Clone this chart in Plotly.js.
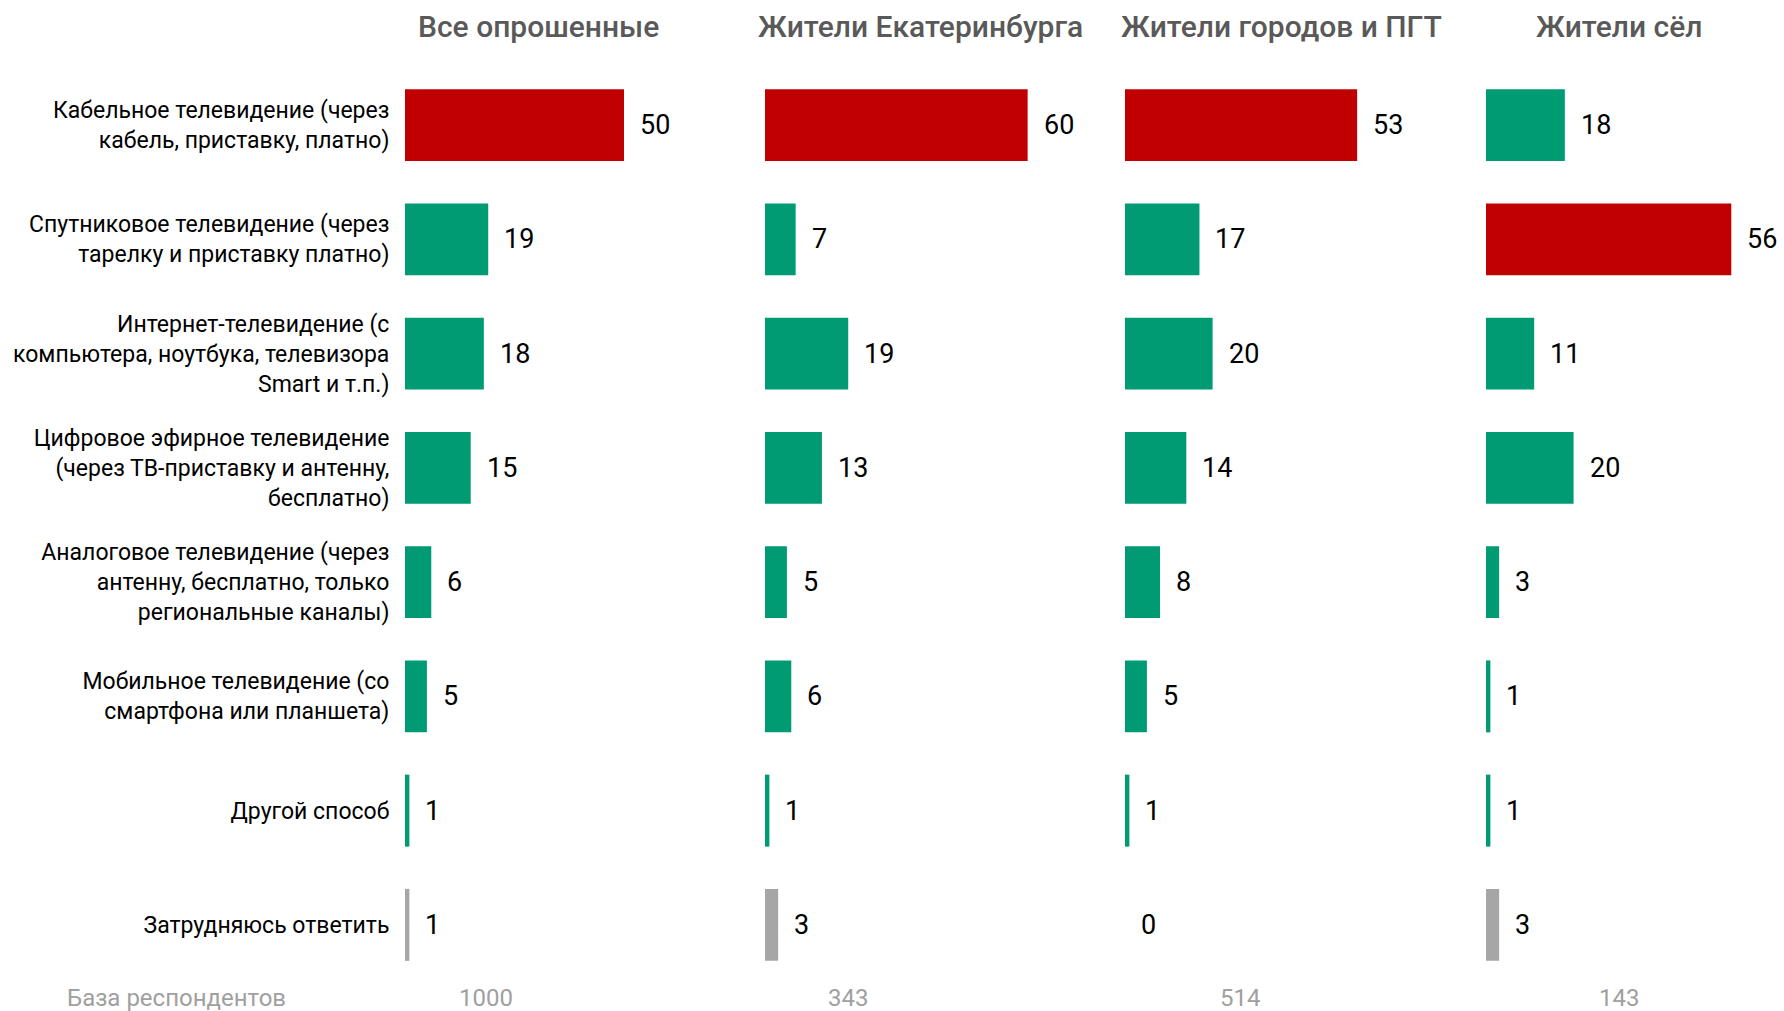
<!DOCTYPE html>
<html><head><meta charset="utf-8">
<script src="https://cdn.plot.ly/plotly-3.0.1.min.js"></script>
<style>html,body{margin:0;padding:0;background:#fff;}#chart{width:1784px;height:1011px;}</style>
</head><body><div id="chart"></div>
<script>
const categories = [
  "Кабельное телевидение (через<br>кабель, приставку, платно)",
  "Спутниковое телевидение (через<br>тарелку и приставку платно)",
  "Интернет-телевидение (с<br>компьютера, ноутбука, телевизора<br>Smart и т.п.)",
  "Цифровое эфирное телевидение<br>(через ТВ-приставку и антенну,<br>бесплатно)",
  "Аналоговое телевидение (через<br>антенну, бесплатно, только<br>региональные каналы)",
  "Мобильное телевидение (со<br>смартфона или планшета)",
  "Другой способ",
  "Затрудняюсь ответить"
];
const panelTitles = ["Все опрошенные", "Жители Екатеринбурга", "Жители городов и ПГТ", "Жители сёл"];
const allResp = [50, 19, 18, 15, 6, 5, 1, 1];
const ekb = [60, 7, 19, 13, 5, 6, 1, 3];
const towns = [53, 17, 20, 14, 8, 5, 1, 0];
const villages = [18, 56, 11, 20, 3, 1, 1, 3];
const baseLabel = "База респондентов";
const baseCounts = [1000, 343, 514, 143];

const series = [allResp, ekb, towns, villages];
const W = 1784;
const RED = "#C00000", GREEN = "#009B72", GRAY = "#A6A6A6";
const FONT = "Roboto, 'Liberation Sans', Arial, sans-serif";
const panelStart = [405, 765, 1125, 1486];
const pxPerUnit = 4.38;
const rangeMax = 60;
const titleX = [538, 920, 1281, 1619];
const baseX = [486, 848, 1240, 1619];

const traces = [];
const annotations = [];
const layout = {
  width: W, height: 1011,
  margin: {l: 0, r: 0, t: 68, b: 29},
  paper_bgcolor: "#fff", plot_bgcolor: "#fff",
  showlegend: false,
  bargap: 0.37,
  font: {family: FONT, color: "#000"},
  yaxis: {
    type: "category", autorange: false, range: [7.5, -0.5],
    tickmode: "array", tickvals: categories, ticktext: categories,
    showgrid: false, zeroline: false, showline: false,
    ticks: "outside", ticklen: 10, tickcolor: "rgba(0,0,0,0)",
    tickfont: {family: FONT, size: 23, color: "#000"},
    anchor: "x", side: "left"
  }
};

series.forEach((vals, i) => {
  const ax = i === 0 ? "x" : "x" + (i + 1);
  const axKey = i === 0 ? "xaxis" : "xaxis" + (i + 1);
  const maxV = Math.max(...vals);
  const colors = vals.map((v, j) => j === vals.length - 1 ? GRAY : (v === maxV ? RED : GREEN));
  traces.push({
    type: "bar", orientation: "h", x: vals, y: categories,
    xaxis: ax, yaxis: "y",
    marker: {color: colors, line: {width: 0}},
    hoverinfo: "x+y", cliponaxis: false
  });
  const d0 = panelStart[i] / W;
  const d1 = (panelStart[i] + rangeMax * pxPerUnit) / W;
  layout[axKey] = {
    domain: [d0, d1], range: [0, rangeMax], anchor: "y",
    showgrid: false, zeroline: false, showline: false, showticklabels: false, ticks: ""
  };
  vals.forEach((v, j) => {
    annotations.push({
      xref: ax, yref: "y", x: v, y: categories[j],
      text: String(v), showarrow: false, xanchor: "left", yanchor: "middle",
      xshift: 14, font: {family: FONT, size: 27, color: "#000"}
    });
  });
  annotations.push({
    xref: "paper", yref: "paper", x: titleX[i] / W, y: 1, yshift: 42,
    text: panelTitles[i], showarrow: false, xanchor: "center", yanchor: "middle",
    font: {family: FONT, size: 30, color: "#595959", weight: 500}
  });
  annotations.push({
    xref: "paper", yref: "paper", x: baseX[i] / W, y: 0, yshift: -16,
    text: String(baseCounts[i]), showarrow: false, xanchor: "center", yanchor: "middle",
    font: {family: FONT, size: 24, color: "#A0A0A0"}
  });
});
annotations.push({
  xref: "paper", yref: "paper", x: 65 / W, y: 0, yshift: -16,
  text: baseLabel, showarrow: false, xanchor: "left", yanchor: "middle",
  font: {family: FONT, size: 24, color: "#A0A0A0"}
});
layout.annotations = annotations;

Plotly.newPlot("chart", traces, layout, {displayModeBar: false, staticPlot: true});
</script></body></html>
